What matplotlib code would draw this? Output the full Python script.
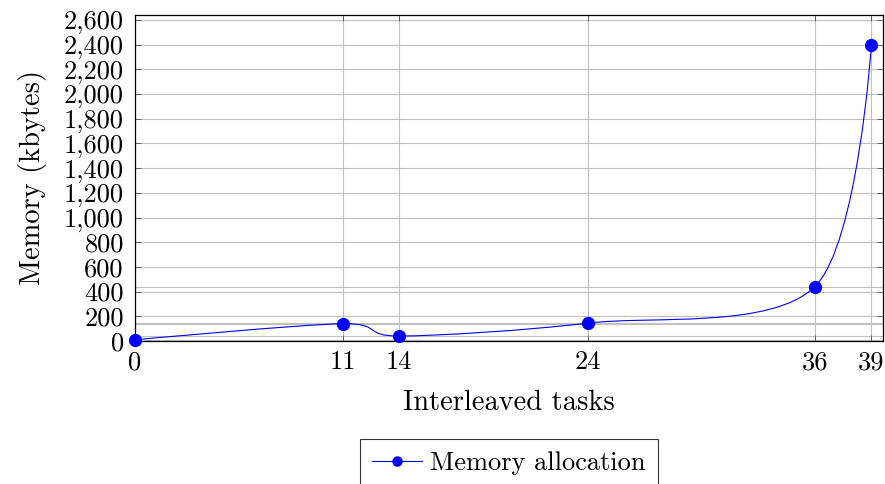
import matplotlib
matplotlib.use("Agg")
import matplotlib.pyplot as plt
from matplotlib.path import Path
from matplotlib.patches import PathPatch
from matplotlib.lines import Line2D
import numpy as np

tasks = [0, 11, 14, 24, 36, 39]
memory_kb = [10, 140, 40, 145, 440, 2400]
y_ticks = list(range(0, 2601, 200))
y_tick_labels = [f"{v:,}" for v in y_ticks]

plt.rcParams["font.family"] = "serif"
plt.rcParams["font.serif"] = ["cmr10", "DejaVu Serif"]
plt.rcParams["axes.formatter.use_mathtext"] = True


def smooth_path(xs, ys, tension=0.55):
    # cubic bezier through the points, same construction as tikz "smooth"
    pts = np.column_stack([xs, ys]).astype(float)
    k = 0.2775 * tension
    n = len(pts)
    verts = [pts[0]]
    codes = [Path.MOVETO]
    for i in range(n - 1):
        p0, p1 = pts[i], pts[i + 1]
        prev = pts[i - 1] if i > 0 else pts[i]
        nxt = pts[i + 2] if i + 2 < n else pts[i + 1]
        c1 = p0 + k * (p1 - prev) if i > 0 else p0
        c2 = p1 - k * (nxt - p0) if i + 2 < n else p1
        verts += [c1, c2, p1]
        codes += [Path.CURVE4] * 3
    return Path(verts, codes)


fig = plt.figure(figsize=(8.85, 4.84), dpi=100)
ax = fig.add_axes([0.1525, 0.2955, 0.845, 0.6735])

grid_kw = dict(color="#c0c0c0", lw=0.8, zorder=0)
for x in tasks:
    ax.axvline(x, **grid_kw)
for y in y_ticks + memory_kb:
    ax.axhline(y, **grid_kw)

ax.add_patch(PathPatch(smooth_path(tasks, memory_kb), fill=False,
                       edgecolor="blue", lw=0.8, zorder=3, clip_on=False))
ax.plot(tasks, memory_kb, ls="none", marker="o", ms=8.5, color="blue",
        zorder=4, clip_on=False)

ax.set_xlim(0, 39.6)
ax.set_ylim(0, 2640)
ax.set_xticks(tasks)
ax.set_xticklabels([str(t) for t in tasks])
ax.set_yticks(y_ticks)
ax.set_yticklabels(y_tick_labels)
ax.tick_params(direction="in", length=4, width=0.6, color="#555555",
               top=True, right=True, labelsize=19)
ax.tick_params(axis="y", pad=8)
ax.tick_params(axis="x", pad=7)
for s in ax.spines.values():
    s.set_linewidth(0.9)

ax.set_xlabel("Interleaved tasks", fontsize=20.5, labelpad=11)
ax.set_ylabel("Memory (kbytes)", fontsize=20.5, labelpad=12)

handle = Line2D([], [], color="blue", lw=0.8, marker="o", ms=6.5)
leg = ax.legend([handle], ["Memory allocation"], loc="upper center",
                bbox_to_anchor=(0.5, -0.277), fontsize=19, frameon=True,
                fancybox=False, edgecolor="black", handlelength=1.9,
                borderpad=0.45, handletextpad=0.3, borderaxespad=0.3)
leg.get_frame().set_linewidth(0.8)

fig.savefig("out.png", dpi=100)
